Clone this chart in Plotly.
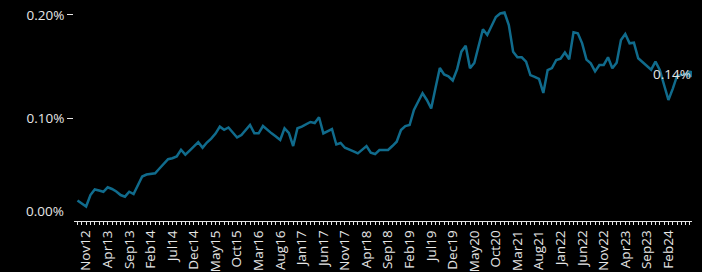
import plotly.graph_objects as go
import pandas as pd

# Monthly series (percent units), Sep 2012 .. Jul 2024
values = [
    0.0199, 0.0170, 0.0141, 0.0252, 0.0306, 0.0296, 0.0284, 0.0327, 0.0311, 0.0286,
    0.0252, 0.0236, 0.0284, 0.0262, 0.0350, 0.0432, 0.0451, 0.0456, 0.0463, 0.0510,
    0.0558, 0.0600, 0.0609, 0.0626, 0.0692, 0.0644, 0.0684, 0.0725, 0.0765, 0.0712,
    0.0762, 0.0800, 0.0849, 0.0916, 0.0886, 0.0908, 0.0859, 0.0811, 0.0835, 0.0883,
    0.0932, 0.0851, 0.0851, 0.0922, 0.0883, 0.0851, 0.0820, 0.0786, 0.0900, 0.0855,
    0.0728, 0.0900, 0.0916, 0.0939, 0.0961, 0.0951, 0.1007, 0.0851, 0.0874, 0.0893,
    0.0743, 0.0757, 0.0711, 0.0696, 0.0677, 0.0657, 0.0694, 0.0728, 0.0663, 0.0650,
    0.0689, 0.0689, 0.0689, 0.0728, 0.0770, 0.0883, 0.0922, 0.0932, 0.1078, 0.1160,
    0.1240, 0.1175, 0.1092, 0.1291, 0.1485, 0.1422, 0.1405, 0.1364, 0.1471, 0.1644,
    0.1701, 0.1483, 0.1534, 0.1699, 0.1861, 0.1806, 0.1893, 0.1981, 0.2015, 0.2024,
    0.1903, 0.1644, 0.1589, 0.1589, 0.1547, 0.1417, 0.1400, 0.1379, 0.1243, 0.1466,
    0.1485, 0.1563, 0.1575, 0.1636, 0.1570, 0.1832, 0.1822, 0.1725, 0.1567, 0.1531,
    0.1453, 0.1515, 0.1515, 0.1589, 0.1483, 0.1537, 0.1757, 0.1816, 0.1725, 0.1731,
    0.1580, 0.1544, 0.1505, 0.1469, 0.1547, 0.1466, 0.1320, 0.1175, 0.1283, 0.1408,
    0.1417, 0.1427, 0.1427,
]

months = pd.date_range("2012-09-01", periods=len(values), freq="MS").strftime("%b%y").tolist()
label_months = months[2:140:5]          # Nov12, Apr13, ... Feb24
ytick_vals = [0.1, 0.2]
ytick_text = ["0.10%", "0.20%"]
zero_label = "0.00%"

LINE = "#106b8c"
TEXT = "#e6e6e6"
FONT = "Open Sans"
FS = 13.5

fig = go.Figure()
fig.add_trace(go.Scatter(
    x=months, y=values, mode="lines",
    line=dict(color=LINE, width=2.5), hoverinfo="skip", showlegend=False,
))
fig.add_trace(go.Scatter(
    x=[months[-1]], y=[values[-1]], mode="markers",
    marker=dict(color=LINE, size=7), hoverinfo="skip", showlegend=False,
))

fig.add_annotation(
    x=months[-1], y=values[-1], text=f"{values[-1]:.2f}%", showarrow=False,
    xanchor="right", yanchor="middle", xshift=3,
    font=dict(family=FONT, size=FS, color=TEXT),
)
fig.add_annotation(
    xref="paper", x=0, y=0, text=zero_label, showarrow=False,
    xanchor="right", yanchor="middle", xshift=-8, yshift=10,
    font=dict(family=FONT, size=FS, color=TEXT),
)

fig.update_layout(
    width=702, height=272,
    margin=dict(l=74, r=10, t=5, b=51, autoexpand=False),
    paper_bgcolor="black", plot_bgcolor="black",
    font=dict(family=FONT, size=FS, color=TEXT),
    hovermode=False,
    xaxis=dict(
        type="category", tickmode="array", tickvals=months,
        ticktext=[m if m in label_months else "" for m in months],
        tickangle=-90, ticks="outside", ticklen=3, tickcolor=TEXT, tickwidth=1,
        showline=True, linecolor=TEXT, linewidth=1,
        showgrid=False, zeroline=False, automargin=False,
        range=[-0.81, len(values) - 1 + 0.47],
        tickfont=dict(family=FONT, size=FS, color=TEXT),
    ),
    yaxis=dict(
        range=[0, 0.2097], tickmode="array", tickvals=ytick_vals, ticktext=ytick_text,
        ticks="outside", ticklen=6, tickcolor=TEXT, tickwidth=1,
        showgrid=False, zeroline=False, showline=False, automargin=False,
        tickfont=dict(family=FONT, size=FS, color=TEXT),
    ),
)

fig.write_html(
    "out.html",
    config={"displayModeBar": False},
    post_script="document.body.style.margin='0';document.body.style.background='black';",
)
